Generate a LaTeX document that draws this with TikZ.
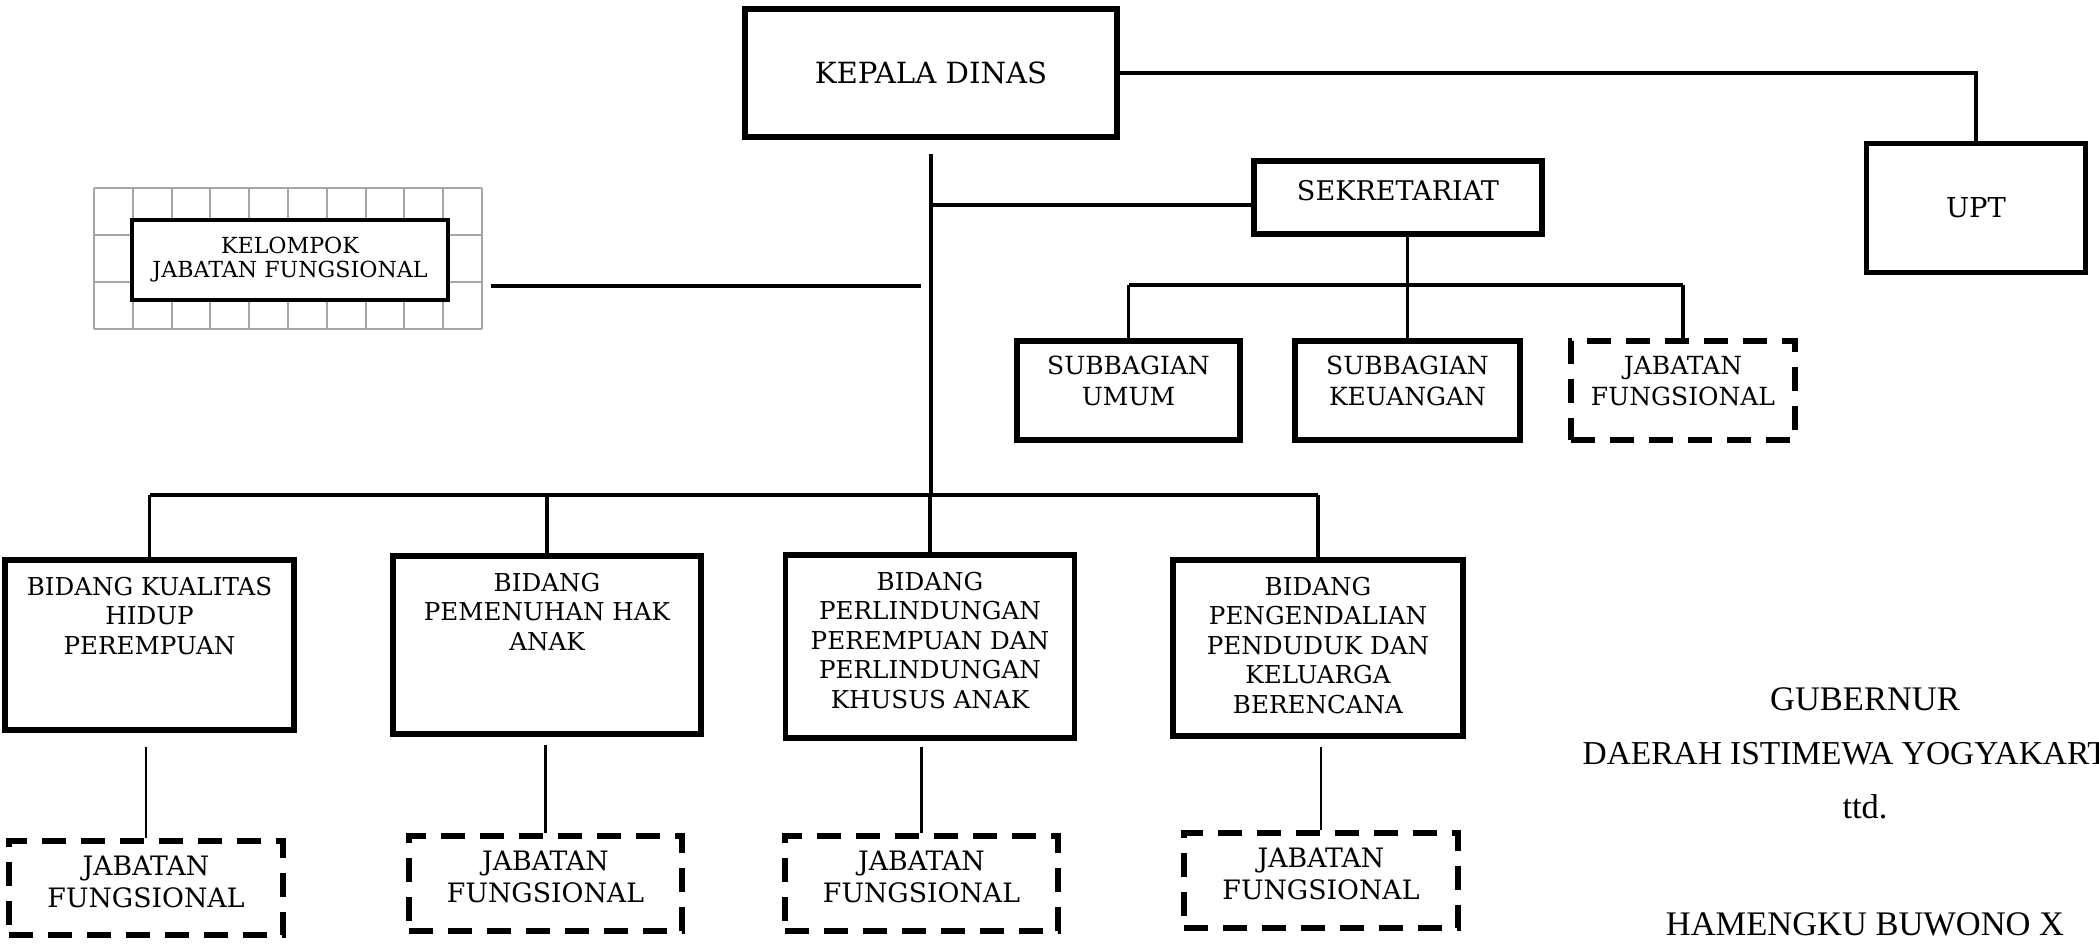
\documentclass[tikz,border=0pt]{standalone}
\usepackage{fontspec}
\setmainfont{DejaVu Serif}
\newfontfamily\ttdfont{Liberation Serif}
\newcommand{\isikotak}[4]{\parbox[c][#2][t]{#1}{\centering\vspace*{#3}#4}}

\begin{document}
\begin{tikzpicture}[x=0.01cm, y=-0.01cm,
	kotak/.style={draw=black, line width=1.5pt, inner sep=0pt},
	kotakputus/.style={kotak, dash pattern=on 0.24cm off 0.15cm},
	garis/.style={line width=1.1pt},
	garistipis/.style={line width=0.7pt},
	kisi/.style={draw=gray!70, line width=0.6pt},
	hurufbidang/.style={font=\fontsize{7}{8.4}\selectfont},
	hurufsub/.style={font=\fontsize{7.1}{8.8}\selectfont},
	hurufjf/.style={font=\fontsize{7.6}{9}\selectfont},
	tandatangan/.style={font=\ttdfont\fontsize{9.8}{11}\selectfont, inner sep=0pt}]
	
	\clip (0,0) rectangle (2099,948);
	
	\foreach \i in {0,...,10} \draw[kisi] (94+38.8*\i,188) -- (94+38.8*\i,329);
	\foreach \j in {0,...,3} \draw[kisi] (94,188+47*\j) -- (482,188+47*\j);
	
	\node[kotak, minimum width=3.72cm, minimum height=1.28cm, font=\fontsize{8.3}{10}\selectfont] (kd) at (931,73) {KEPALA DINAS};
	\node[kotak, minimum width=2.19cm, minimum height=1.29cm, font=\fontsize{7.8}{9}\selectfont] (upt) at (1976,208) {UPT};
	\node[kotak, font=\fontsize{7.7}{9}\selectfont] (sek) at (1398,197.5) {\isikotak{2.88cm}{0.73cm}{0.19cm}{SEKRETARIAT}};
	\node[kotak, fill=white, line width=1.2pt, minimum width=3.16cm, minimum height=0.8cm, align=center, font=\fontsize{6.3}{6.8}\selectfont] (kjf) at (290,260) {KELOMPOK\\JABATAN FUNGSIONAL};
	
	\node[kotak, hurufsub] (su) at (1128.5,390.5) {\isikotak{2.23cm}{0.99cm}{0.15cm}{SUBBAGIAN\\UMUM}};
	\node[kotak, hurufsub] (sk) at (1407.5,390.5) {\isikotak{2.25cm}{0.99cm}{0.15cm}{SUBBAGIAN\\KEUANGAN}};
	\node[kotakputus, hurufsub] (jfs) at (1683,390.5) {\isikotak{2.24cm}{0.99cm}{0.15cm}{JABATAN\\FUNGSIONAL}};
	
	\node[kotak, hurufbidang] (b1) at (149.5,645) {\isikotak{2.89cm}{1.70cm}{0.17cm}{BIDANG KUALITAS\\HIDUP\\PEREMPUAN}};
	\node[kotak, hurufbidang] (b2) at (547,645) {\isikotak{3.08cm}{1.78cm}{0.17cm}{BIDANG\\PEMENUHAN HAK\\ANAK}};
	\node[kotak, hurufbidang] (b3) at (930,646.5) {\isikotak{2.89cm}{1.83cm}{0.17cm}{BIDANG\\PERLINDUNGAN\\PEREMPUAN DAN\\PERLINDUNGAN\\KHUSUS ANAK}};
	\node[kotak, hurufbidang] (b4) at (1318,648) {\isikotak{2.90cm}{1.76cm}{0.17cm}{BIDANG\\PENGENDALIAN\\PENDUDUK DAN\\KELUARGA\\BERENCANA}};
	
	\node[kotakputus, hurufjf] (jf1) at (146,888) {\isikotak{2.74cm}{0.94cm}{0.15cm}{JABATAN\\FUNGSIONAL}};
	\node[kotakputus, hurufjf] (jf2) at (545.5,883.5) {\isikotak{2.73cm}{0.95cm}{0.15cm}{JABATAN\\FUNGSIONAL}};
	\node[kotakputus, hurufjf] (jf3) at (921.5,883.5) {\isikotak{2.73cm}{0.95cm}{0.15cm}{JABATAN\\FUNGSIONAL}};
	\node[kotakputus, hurufjf] (jf4) at (1321,880.5) {\isikotak{2.74cm}{0.95cm}{0.15cm}{JABATAN\\FUNGSIONAL}};
	
	\node[tandatangan] (gub) at (1865,699) {GUBERNUR};
	\node[tandatangan, anchor=west, font=\ttdfont\fontsize{9.5}{11}\selectfont] (diy) at (1582,754) {DAERAH ISTIMEWA YOGYAKARTA};
	\node[tandatangan] (ttd) at (1865,807) {ttd.};
	\node[tandatangan] (nama) at (1865,924) {HAMENGKU BUWONO X};
	
	\coordinate (pangkal) at (931,154);
	\coordinate (simpang) at (931,495);
	\coordinate (cabangsek) at (931,205);
	\coordinate (bussek) at (1403,285);
	\coordinate (kjfawal) at (491,286);
	\coordinate (kjfakhir) at (921,286);
	
	\draw[garis] (kd.east) -| (upt.north);
	\draw[line width=1pt] (pangkal) -- (simpang);
	\draw[garis] (cabangsek) -- (cabangsek -| sek.west);
	\draw[garis] (kjfawal) -- (kjfakhir);
	
	\draw[garis] (sk.north |- sek.south) -- (sk.north);
	\draw[garis] (su.north |- bussek) -- (jfs.north |- bussek);
	\draw[garis] (su.north |- bussek) -- (su.north);
	\draw[garis] (jfs.north |- bussek) -- (jfs.north);
	
	\draw[garis] (b1.north |- simpang) -- (b4.north |- simpang);
	\draw[garis] (b1.north |- simpang) -- (b1.north);
	\draw[garis] (b2.north |- simpang) -- (b2.north);
	\draw[garis] (b3.north |- simpang) -- (b3.north);
	\draw[garis] (b4.north |- simpang) -- (b4.north);
	
	\draw[garistipis] (jf1.north) -- ([yshift=-0.14cm]jf1.north |- b1.south);
	\draw[garistipis] (jf2.north) -- ([yshift=-0.08cm]jf2.north |- b2.south);
	\draw[garistipis] (jf3.north) -- ([yshift=-0.06cm]jf3.north |- b3.south);
	\draw[garistipis] (jf4.north) -- ([yshift=-0.08cm]jf4.north |- b4.south);
	
\end{tikzpicture}
\end{document}
